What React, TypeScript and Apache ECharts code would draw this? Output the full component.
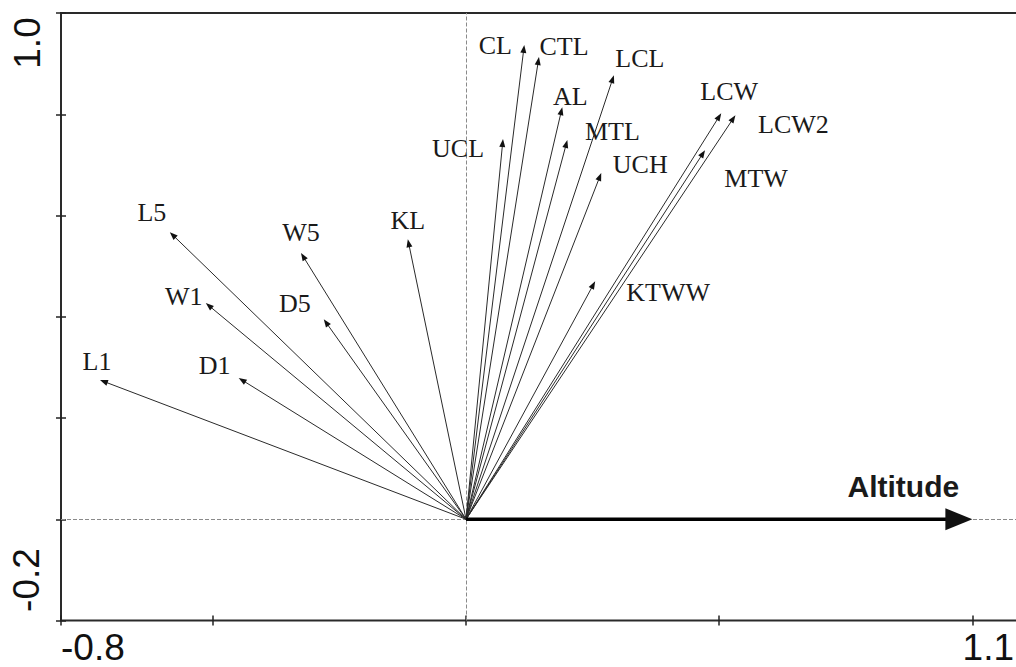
import React, { useEffect, useRef } from "react";
import * as echarts from "echarts";

// Response variables (species traits) and their biplot scores on axes 1 and 2
const variables = ["L1", "D1", "W1", "L5", "W5", "D5", "KL", "UCL", "CL", "CTL", "AL", "MTL", "LCL", "UCH", "KTWW", "MTW", "LCW", "LCW2"];
const axis1Scores = [-0.723, -0.449, -0.514, -0.585, -0.326, -0.281, -0.115, 0.073, 0.115, 0.144, 0.19, 0.2, 0.292, 0.267, 0.255, 0.472, 0.504, 0.532];
const axis2Scores = [0.275, 0.279, 0.427, 0.567, 0.526, 0.395, 0.553, 0.751, 0.937, 0.913, 0.814, 0.749, 0.877, 0.684, 0.47, 0.729, 0.802, 0.798];

// Environmental variable
const envNames = ["Altitude"];
const envAxis1 = [1.0];
const envAxis2 = [0];

// Axis ranges and ticks
const xRange = [-0.8, 1.1];
const yRange = [-0.2, 1.0];
const xTicks = [-0.8, -0.5, 0, 0.5, 1.0];
const xEndLabels = ["-0.8", "1.1"];
const yEndLabels = ["1.0", "-0.2"];

// label placement (pixels from arrow tip) – layout only
const labelOffsets: Record<string, [number, number]> = {
  L1: [-3, -19], D1: [-24, -13], W1: [-22, -7], L5: [-18, -20], W5: [0, -20], D5: [-29, -16],
  KL: [0, -19], UCL: [-45, 9], CL: [-29, 1], CTL: [25, -11], AL: [8, -11], MTL: [45, -9],
  LCL: [26, -17], UCH: [39, -8], KTWW: [73, 11], MTW: [51, 28], LCW: [8, -22], LCW2: [58, 9],
  Altitude: [-69, -33],
};

function makeArrowRenderer(names: string[], headLen: number, headW: number, lw: number, stroke: string, font: string) {
  return (params: any, api: any) => {
    const x = api.value(0);
    const y = api.value(1);
    const p0 = api.coord([0, 0]);
    const p1 = api.coord([x, y]);
    const dx = p1[0] - p0[0];
    const dy = p1[1] - p0[1];
    const len = Math.hypot(dx, dy);
    const ux = dx / len;
    const uy = dy / len;
    const bx = p1[0] - ux * headLen;
    const by = p1[1] - uy * headLen;
    const nx = -uy;
    const ny = ux;
    const name = names[params.dataIndex];
    const off = labelOffsets[name] || [0, -18];
    return {
      type: "group",
      children: [
        {
          type: "line",
          shape: { x1: p0[0], y1: p0[1], x2: bx + ux * 1, y2: by + uy * 1 },
          style: { stroke, lineWidth: lw },
        },
        {
          type: "polygon",
          shape: {
            points: [
              [p1[0], p1[1]],
              [bx + nx * headW, by + ny * headW],
              [bx - nx * headW, by - ny * headW],
            ],
          },
          style: { fill: "#111" },
        },
        {
          type: "text",
          x: p1[0] + off[0],
          y: p1[1] + off[1],
          style: {
            text: name,
            align: "center",
            verticalAlign: "middle",
            font,
            fill: "#1a1a1a",
          },
        },
      ],
    };
  };
}

export default function App() {
  const ref = useRef<HTMLDivElement>(null);
  useEffect(() => {
    if (!ref.current) return;
    const chart = echarts.init(ref.current, undefined, { renderer: "svg" });
    const tickStyle = { color: "#222", width: 1.5 };
    const baseX = {
      type: "value",
      min: xRange[0],
      max: xRange[1],
      axisLine: { show: false, onZero: false },
      axisLabel: { show: false },
      splitLine: { show: false },
    };
    const baseY = {
      type: "value",
      min: yRange[0],
      max: yRange[1],
      interval: 0.2,
      axisLine: { show: false, onZero: false },
      axisLabel: { show: false },
      splitLine: { show: false },
    };
    const sans = "37px 'Liberation Sans', Arial, sans-serif";
    chart.setOption({
      animation: false,
      backgroundColor: "#ffffff",
      grid: {
        left: 61,
        top: 13,
        width: 962,
        height: 607.5,
        show: true,
        borderColor: "#2a2a2a",
        borderWidth: 2,
        backgroundColor: "transparent",
      },
      xAxis: [
        { ...baseX, position: "bottom", axisTick: { show: true, customValues: xTicks, length: 5, inside: false, lineStyle: tickStyle } },
        { ...baseX, position: "bottom", axisTick: { show: true, customValues: xTicks, length: 5, inside: true, lineStyle: tickStyle } },
      ],
      yAxis: [
        { ...baseY, position: "left", axisTick: { show: true, length: 5, inside: false, lineStyle: tickStyle } },
        { ...baseY, position: "left", axisTick: { show: true, length: 5, inside: true, lineStyle: tickStyle } },
      ],
      graphic: [
        { type: "text", x: 61, y: 647, style: { text: xEndLabels[0], align: "left", verticalAlign: "middle", font: sans, fill: "#111" } },
        { type: "text", x: 1014, y: 647, style: { text: xEndLabels[1], align: "right", verticalAlign: "middle", font: sans, fill: "#111" } },
        { type: "text", x: 27, y: 43, rotation: Math.PI / 2, style: { text: yEndLabels[0], align: "center", verticalAlign: "middle", font: sans, fill: "#111" } },
        { type: "text", x: 26, y: 580, rotation: Math.PI / 2, style: { text: yEndLabels[1], align: "center", verticalAlign: "middle", font: sans, fill: "#111" } },
      ],
      series: [
        {
          type: "custom",
          name: "traits",
          xAxisIndex: 0,
          yAxisIndex: 0,
          silent: true,
          renderItem: makeArrowRenderer(variables, 8, 3, 1, "#2a2a2a", "26px 'Liberation Serif', 'Times New Roman', serif"),
          data: variables.map((_, i) => [axis1Scores[i], axis2Scores[i]]),
          markLine: {
            silent: true,
            z: 1,
            symbol: "none",
            label: { show: false },
            lineStyle: { color: "#8a8a8a", width: 1, type: [4, 2] },
            data: [{ xAxis: 0 }, { yAxis: 0 }],
          },
          z: 3,
        },
        {
          type: "custom",
          name: "environment",
          xAxisIndex: 0,
          yAxisIndex: 0,
          silent: true,
          renderItem: makeArrowRenderer(envNames, 27, 11, 3.5, "#000", "bold 30px 'Liberation Sans', Arial, sans-serif"),
          data: envNames.map((_, i) => [envAxis1[i], envAxis2[i]]),
          z: 4,
        },
      ],
    });
    return () => chart.dispose();
  }, []);
  return (
    <div style={{ position: "absolute", left: 0, top: 0, width: 1016, height: 667, overflow: "hidden", background: "#fff" }}>
      <div ref={ref} style={{ position: "absolute", left: 0, top: 0, width: 1040, height: 667 }} />
    </div>
  );
}
